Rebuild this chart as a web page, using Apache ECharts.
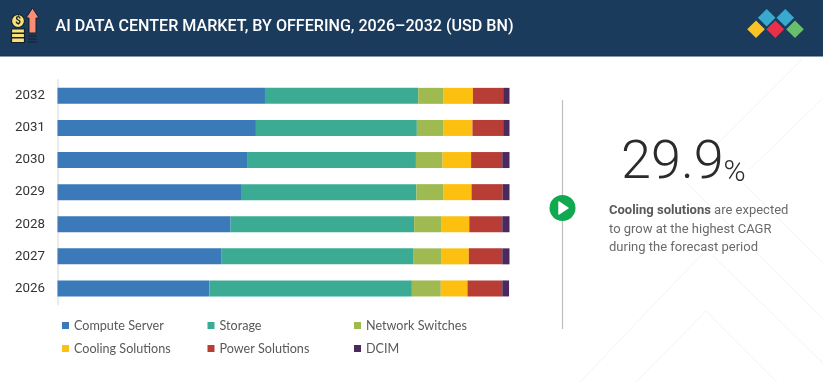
<!DOCTYPE html>
<html><head><meta charset="utf-8">
<style>html,body{margin:0;padding:0;background:#fff}#c{width:823px;height:382px}</style>
<script src="https://cdn.jsdelivr.net/npm/echarts@6/dist/echarts.min.js"></script>
</head><body><div id="c"></div>
<script>
const years = ['2026','2027','2028','2029','2030','2031','2032'];
const computeServer = [33.6,36.2,38.3,40.6,42.1,43.9,45.9];
const storage = [44.8,42.6,40.6,38.8,37.2,35.6,33.9];
const networkSwitches = [6.4,6.2,6.1,5.9,5.9,5.8,5.5];
const coolingSolutions = [5.9,6.0,6.1,6.3,6.3,6.5,6.6];
const powerSolutions = [7.7,7.4,7.3,6.9,6.9,6.8,6.7];
const dcim = [1.5,1.6,1.6,1.5,1.6,1.4,1.4];
const seriesNames = ['Compute Server','Storage','Network Switches','Cooling Solutions','Power Solutions','DCIM'];
const seriesValues = [computeServer,storage,networkSwitches,coolingSolutions,powerSolutions,dcim];
const colors = ['#3A7AB8','#3BAB93','#A0BA52','#FDC010','#B83D35','#4A2A5C'];
const title = 'AI DATA CENTER MARKET, BY OFFERING, 2026\u20132032 (USD BN)';
const legendPos = [[62,319],[207.5,319],[354,319],[62,342],[207.5,342],[354,342]];

const chart = echarts.init(document.getElementById('c'),null,{renderer:'canvas'});
const faint = '#f3f3f5';
const bgLines = [
 [[802,59],[717,144]],[[823,98],[750,169]],
 [[706,311],[636,382]],[[706,311],[777,382]],
 [[703,253],[580,382]],[[713,256],[823,363]],
 [[687,183],[823,319]],[[743,183],[823,263]]
].map(l=>({type:'line',silent:true,z:0,shape:{x1:l[0][0],y1:l[0][1],x2:l[1][0],y2:l[1][1]},style:{stroke:faint,lineWidth:1}}));
const diamond=(x,y,r,fill)=>({type:'polygon',silent:true,shape:{points:[[x,y-r],[x+r,y],[x,y+r],[x-r,y]]},style:{fill}});
const rect=(x,y,w,h,fill,stroke,lw)=>({type:'rect',silent:true,shape:{x,y,width:w,height:h},style:{fill,stroke,lineWidth:lw||0}});
const graphic = [
 ...bgLines,
 rect(0,0,823,56,'#1B3B5C'),
 rect(0,55.5,823,1,'#16324E'),
 rect(11.5,29,13,4,'#F7E27A','#14202c',1.2),
 rect(11.5,33.5,13,4,'#F7E27A','#14202c',1.2),
 rect(11.5,38,13,4.5,'#F7E27A','#14202c',1.2),
 {type:'circle',silent:true,shape:{cx:18,cy:21,r:6.5},style:{fill:'#F7E27A',stroke:'#14202c',lineWidth:1.2}},
 {type:'text',silent:true,style:{x:18,y:21,text:'$',font:'bold 10px Roboto',fill:'#14202c',align:'center',verticalAlign:'middle'}},
 {type:'polygon',silent:true,shape:{points:[[32.5,8],[39,18],[36,18],[36,33],[29,33],[29,18],[26,18]]},style:{fill:'#F98E74',stroke:'#14202c',lineWidth:1}},
 rect(28.5,35.5,8,1,'#14202c'),rect(28.5,38.5,8,1,'#14202c'),rect(28.5,41.5,8,1,'#14202c'),
 {type:'text',silent:true,style:{x:55.5,y:27,text:title,font:'500 16.1px Roboto',fill:'#ffffff',verticalAlign:'middle'}},
 diamond(766.7,17.7,8.8,'#38A9CF'),diamond(785.3,17.7,8.8,'#38A9CF'),
 diamond(756,29.3,8.8,'#F8C325'),diamond(775.3,29.3,8.8,'#E8304A'),diamond(795,29.3,8.8,'#67BF6B'),
 {type:'line',silent:true,shape:{x1:562.5,y1:100,x2:562.5,y2:329},style:{stroke:'#bdbdbd',lineWidth:1.2}},
 {type:'circle',silent:true,shape:{cx:562.5,cy:208,r:13},style:{fill:'#10A94F'}},
 {type:'polygon',silent:true,shape:{points:[[559,202],[568,208],[559,214]]},style:{fill:'#fff',stroke:'#fff',lineWidth:1.5,lineJoin:'round'}},
 {type:'text',silent:true,style:{x:621,y:164,text:'29.9',font:'300 54px Roboto',fill:'#2b2b2b',verticalAlign:'middle'}},
 {type:'text',silent:true,style:{x:723.5,y:173,text:'%',font:'300 30px Roboto',fill:'#2b2b2b',verticalAlign:'middle'}},
 {type:'text',silent:true,style:{x:609,y:211,text:'{b|Cooling solutions} are expected',verticalAlign:'middle',rich:{b:{font:'bold 13px Roboto',fill:'#595959'}},font:'13px Roboto',fill:'#6a6a6a'}},
 {type:'text',silent:true,style:{x:609,y:230,text:'to grow at the highest CAGR',font:'13px Roboto',fill:'#6a6a6a',verticalAlign:'middle'}},
 {type:'text',silent:true,style:{x:609,y:248,text:'during the forecast period',font:'13px Roboto',fill:'#6a6a6a',verticalAlign:'middle'}}
];
chart.setOption({
 animation:false,
 backgroundColor:'#fff',
 graphic,
 grid:{left:57.5,top:79.8,width:452,height:224.7,containLabel:false},
 legend:seriesNames.map((n,i)=>({data:[n],left:legendPos[i][0],top:legendPos[i][1],icon:'rect',itemWidth:7,itemHeight:7,itemGap:3.5,padding:0,selectedMode:false,
   textStyle:{fontFamily:'Lato',fontSize:12.6,color:'#595959'}})),
 xAxis:{type:'value',min:0,max:100,show:false},
 yAxis:{type:'category',data:years,axisTick:{show:false},
   axisLine:{show:true,lineStyle:{color:'#e3e3e3',width:1.5}},
   axisLabel:{fontFamily:'Roboto',fontSize:13.3,color:'#333',margin:12.5,padding:[2,0,0,0]}},
 series:seriesNames.map((n,i)=>({name:n,type:'bar',stack:'t',data:seriesValues[i],barWidth:16,itemStyle:{color:colors[i]},emphasis:{disabled:true}}))
});
</script></body></html>
